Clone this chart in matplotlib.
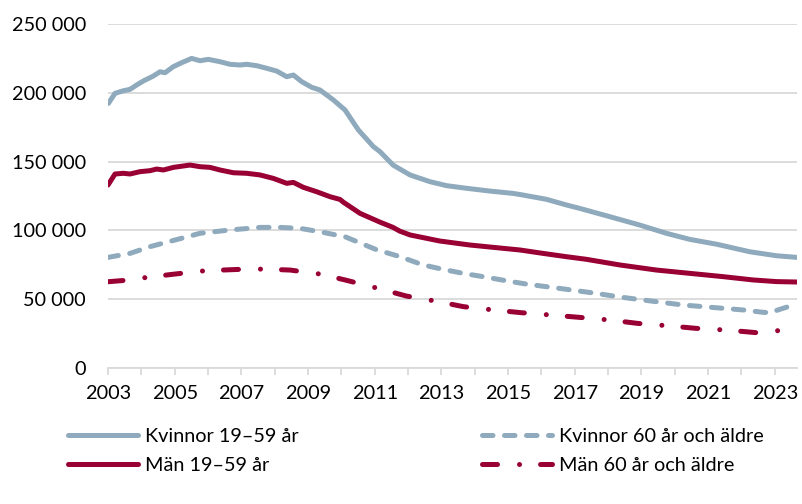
import matplotlib
matplotlib.use("Agg")
import matplotlib.pyplot as plt
import numpy as np

plt.rcParams['font.family'] = ['Lato', 'DejaVu Sans']

# avlästa punkter (år, antal)
kv_unga_ar = [2003.01, 2003.21, 2003.46, 2003.66, 2003.86, 2004.06, 2004.36, 2004.56,
              2004.71, 2004.96, 2005.21, 2005.51, 2005.76, 2006.01, 2006.36, 2006.66,
              2006.96, 2007.16, 2007.46, 2007.76, 2008.06, 2008.36, 2008.56, 2008.81,
              2009.11, 2009.36, 2009.76, 2010.11, 2010.51, 2010.96, 2011.16, 2011.55,
              2012.06, 2012.66, 2013.16, 2013.76, 2014.45, 2015.15, 2015.45, 2016.15,
              2016.75, 2017.15, 2017.75, 2018.05, 2018.95, 2019.75, 2020.45, 2021.25,
              2022.25, 2023.05, 2023.66]
kv_unga = [192300, 199600, 201500, 202500, 205700, 208600, 212200, 215300,
           214600, 219000, 221900, 225000, 223300, 224300, 222600, 220700,
           220200, 220700, 219700, 217800, 215800, 211700, 212900, 208100,
           204000, 202000, 194800, 187500, 173000, 160900, 157200, 147500,
           140300, 135400, 132500, 130600, 128600, 126900, 125700, 122600,
           118500, 116000, 112000, 110000, 103900, 97900, 93500, 90000,
           84500, 81600, 80400]

man_unga_ar = [2003.00, 2003.21, 2003.46, 2003.66, 2003.96, 2004.26, 2004.46, 2004.66,
               2004.96, 2005.46, 2005.76, 2006.06, 2006.36, 2006.76, 2007.16, 2007.56,
               2007.96, 2008.36, 2008.56, 2008.86, 2009.26, 2009.66, 2009.96, 2010.06,
               2010.56, 2011.16, 2011.55, 2011.75, 2012.06, 2012.95, 2013.85, 2014.55,
               2015.35, 2016.05, 2016.75, 2017.35, 2018.35, 2019.45, 2020.45, 2021.45,
               2022.35, 2023.05, 2023.66]
man_unga = [133000, 141000, 141500, 141000, 142700, 143400, 144600, 143900,
            145800, 147500, 146300, 145800, 143900, 141900, 141500, 140300,
            137800, 134200, 134900, 131300, 128100, 124500, 122500, 120500,
            112400, 106000, 102200, 99500, 96700, 92300, 89400, 87700,
            85800, 83300, 80900, 79000, 74900, 71200, 68800, 66400,
            64000, 62800, 62500]

kv_aldre_ar = [2003.00, 2003.66, 2004.26, 2005.01, 2005.76, 2006.66, 2007.56, 2008.16,
               2008.76, 2009.36, 2010.11, 2010.35, 2011.05, 2011.75, 2012.45, 2013.05,
               2013.65, 2014.25, 2014.95, 2015.55, 2016.15, 2016.75, 2017.45, 2018.45,
               2019.45, 2020.25, 2021.25, 2022.05, 2022.65, 2022.85, 2023.25, 2023.66]
kv_aldre = [80400, 83300, 88200, 93000, 97900, 100300, 102200, 102200,
            101500, 99000, 95400, 93000, 86000, 81000, 74900, 71700,
            68800, 66400, 63400, 61000, 59100, 57200, 54900, 51300,
            48200, 45800, 43800, 42200, 40500, 40200, 43400, 46500]

man_aldre_ar = [2003.00, 2003.66, 2004.17, 2005.01, 2005.91, 2006.96, 2007.65, 2008.46,
                2009.36, 2010.11, 2011.10, 2011.95, 2012.81, 2013.66, 2014.56, 2015.40,
                2016.30, 2017.15, 2018.05, 2018.90, 2019.80, 2020.65, 2021.55, 2022.45,
                2023.30, 2023.66]
man_aldre = [62700, 64000, 65900, 68300, 70700, 71700, 71900, 71200,
             68300, 64000, 57900, 52300, 48700, 44600, 42200, 40200,
             38500, 36800, 34900, 32400, 30700, 28800, 27600, 25700,
             27600, 28000]

ar_etiketter = [str(a) if a % 2 == 1 else '' for a in range(2003, 2024)]
y_ticks = [0, 50000, 100000, 150000, 200000, 250000]

bla = '#8FAABC'
rod = '#990033'
grid = '#D9D9D9'
fs = 14.3

fig = plt.figure(figsize=(8.02, 5.04), dpi=100)
ax = fig.add_axes([0.1347, 0.2698, 0.8587, 0.6826])

lw = 3.6
ax.plot(kv_unga_ar, kv_unga, color=bla, lw=lw, solid_capstyle='round',
        label='Kvinnor 19–59 år')
ax.plot(man_unga_ar, man_unga, color=rod, lw=lw, solid_capstyle='round',
        label='Män 19–59 år')
ax.plot(kv_aldre_ar, kv_aldre, color=bla, lw=lw, dashes=(2.1, 2.3),
        dash_capstyle='round', label='Kvinnor 60 år och äldre')
ax.plot(man_aldre_ar, man_aldre, color=rod, lw=lw, dashes=(3.0, 4.4, 0.01, 4.2),
        dash_capstyle='round', label='Män 60 år och äldre')

ax.set_xlim(2003, 2023.66)
ax.set_ylim(0, 250000)
ax.set_yticks(y_ticks)
ax.set_yticklabels(['{:,}'.format(v).replace(',', ' ') for v in y_ticks])
ax.set_xticks(range(2003, 2024))
ax.set_xticklabels(ar_etiketter)

ax.grid(axis='y', color=grid, lw=1.3)
ax.set_axisbelow(True)
for s in ['left', 'right', 'top']:
    ax.spines[s].set_visible(False)
ax.spines['bottom'].set_color(grid)
ax.spines['bottom'].set_linewidth(1.3)
ax.tick_params(axis='y', length=0, pad=16, labelsize=fs)
ax.tick_params(axis='x', length=5, width=1.3, color=grid, pad=7, labelsize=fs)

h, l = ax.get_legend_handles_labels()
fig.legend(h, l, ncol=2, loc='upper left', bbox_to_anchor=(68 / 802, 1 - 428 / 504),
           frameon=False, fontsize=fs, handlelength=3.52, handletextpad=0.36,
           borderpad=0, borderaxespad=0, labelspacing=0.62, columnspacing=9.25)

fig.savefig('out.png', dpi=100)
